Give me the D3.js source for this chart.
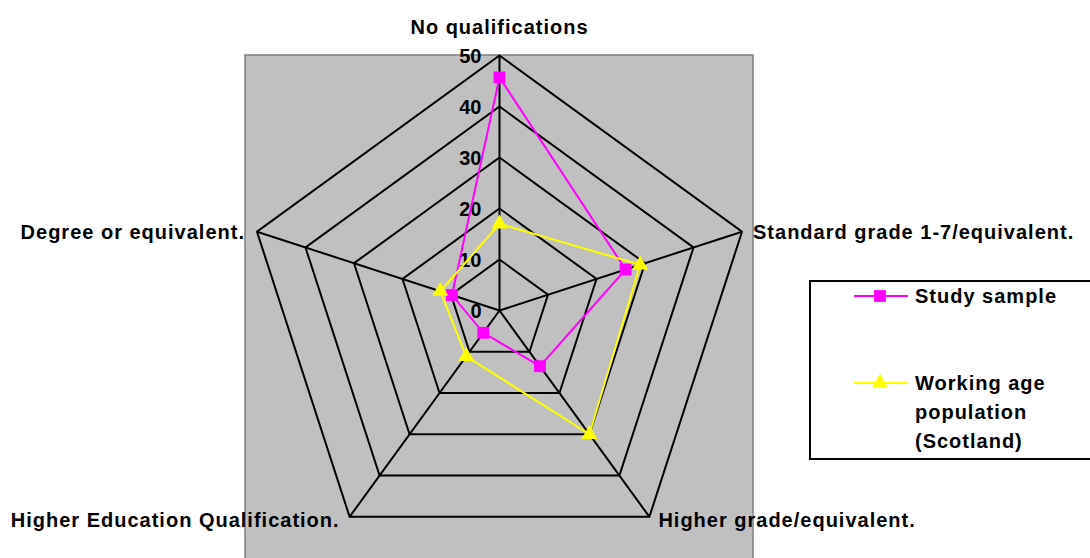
<!DOCTYPE html>
<html>
<head>
<meta charset="utf-8">
<script src="https://cdn.jsdelivr.net/npm/d3@7"></script>
<style>
    body { margin: 0; background: #fff; }
    svg text { font-family: "Liberation Sans", Arial, sans-serif; font-weight: bold; font-size: 20px; fill: #000; }
    .cat, .legend text { letter-spacing: 1px; }
</style>
</head>
<body>
<svg id="chart"></svg>
<script>

const categories = ['No qualifications', 'Standard grade 1-7/equivalent.', 'Higher grade/equivalent.',
    'Higher Education Qualification.', 'Degree or equivalent.']
const studySample = [45.7, 26, 13.5, 5.4, 9.8]
const workingAge = [17, 29, 30, 11.1, 12.2]
const ticks = [0, 10, 20, 30, 40, 50]
const seriesNames = ['Study sample', ['Working age', 'population', '(Scotland)']]

const width = 1090
const height = 558
const cx = 499.5
const cy = 310.5
const R = 255

let svg = d3.select('#chart').attr('width', width).attr('height', height)

let r = d3.scaleLinear().domain([0, 50]).range([0, R])
let angle = d3.scaleLinear().domain([0, categories.length]).range([0, 2*Math.PI])

let pt = (i, v) => [cx + r(v)*Math.sin(angle(i)), cy - r(v)*Math.cos(angle(i))]

// plot area
svg.append('rect')
    .attr('x', 245).attr('y', 55).attr('width', 508).attr('height', 520)
    .attr('fill', '#c0c0c0').attr('stroke', '#808080').attr('stroke-width', 1.5)

let line = d3.line()

// rings
svg.selectAll('path.ring').data(ticks.slice(1)).enter()
    .append('path')
    .attr('class', 'ring')
    .attr('d', t => line(categories.map((c, i) => pt(i, t))) + 'Z')
    .attr('fill', 'none').attr('stroke', '#000').attr('stroke-width', 2)

// spokes
svg.selectAll('line.spoke').data(categories).enter()
    .append('line')
    .attr('class', 'spoke')
    .attr('x1', cx).attr('y1', cy)
    .attr('x2', (d, i) => pt(i, 50)[0])
    .attr('y2', (d, i) => pt(i, 50)[1])
    .attr('stroke', '#000').attr('stroke-width', 2)

// tick labels
svg.selectAll('text.tick').data(ticks).enter()
    .append('text')
    .attr('class', 'tick')
    .attr('x', cx - 18)
    .attr('y', t => cy - r(t))
    .attr('dy', '0.35em')
    .attr('text-anchor', 'end')
    .text(t => t)

// category labels
let labelPos = [
    { dx: 0, dy: -29, anchor: 'middle' },
    { dx: 11, dy: 0, anchor: 'start' },
    { dx: 9, dy: 3, anchor: 'start' },
    { dx: -10, dy: 3, anchor: 'end' },
    { dx: -12, dy: 0, anchor: 'end' }
]
svg.selectAll('text.cat').data(categories).enter()
    .append('text')
    .attr('class', 'cat')
    .attr('x', (d, i) => pt(i, 50)[0] + labelPos[i].dx)
    .attr('y', (d, i) => pt(i, 50)[1] + labelPos[i].dy)
    .attr('dy', '0.35em')
    .attr('text-anchor', (d, i) => labelPos[i].anchor)
    .text(d => d)

let square = d3.symbol().type(d3.symbolSquare).size(140)
let triangle = d3.symbol().type(d3.symbolTriangle).size(110)

let series = [
    { values: studySample, color: '#ff00ff', symbol: square },
    { values: workingAge, color: '#ffff00', symbol: triangle }
]

series.forEach(s => {
    let pts = s.values.map((v, i) => pt(i, v))
    svg.append('path')
        .attr('d', line(pts) + 'Z')
        .attr('fill', 'none').attr('stroke', s.color).attr('stroke-width', 2)
    svg.selectAll(null).data(pts).enter()
        .append('path')
        .attr('d', s.symbol())
        .attr('transform', p => `translate(${p[0]},${p[1]})`)
        .attr('fill', s.color)
})

// legend
let legend = svg.append('g').attr('class', 'legend')
legend.append('rect')
    .attr('x', 810).attr('y', 281).attr('width', 290).attr('height', 178)
    .attr('fill', '#fff').attr('stroke', '#000').attr('stroke-width', 2)

let rowY = [296, 383]
series.forEach((s, k) => {
    legend.append('line')
        .attr('x1', 854).attr('x2', 908).attr('y1', rowY[k]).attr('y2', rowY[k])
        .attr('stroke', s.color).attr('stroke-width', 2)
    legend.append('path')
        .attr('d', s.symbol())
        .attr('transform', `translate(880,${rowY[k]})`)
        .attr('fill', s.color)
    let names = [].concat(seriesNames[k])
    legend.append('text')
        .attr('x', 915).attr('y', rowY[k])
        .selectAll('tspan').data(names).enter()
        .append('tspan')
        .attr('x', 915)
        .attr('dy', (d, j) => j == 0 ? '0.35em' : 29)
        .text(d => d)
})

</script>
</body>
</html>
